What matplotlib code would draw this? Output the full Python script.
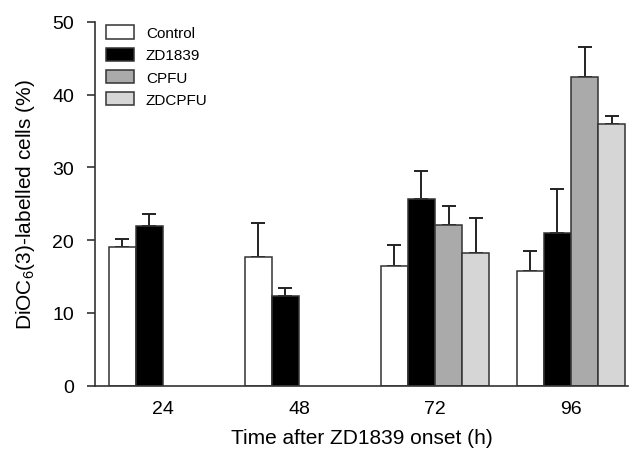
import numpy as np
import matplotlib
matplotlib.use('Agg')
import matplotlib.pyplot as plt

plt.rcParams['font.family'] = ['Liberation Sans', 'DejaVu Sans']
plt.rcParams['mathtext.fontset'] = 'custom'
plt.rcParams['mathtext.rm'] = 'Liberation Sans'
plt.rcParams['mathtext.default'] = 'regular'

# values
times = ['24', '48', '72', '96']
series = ['Control', 'ZD1839', 'CPFU', 'ZDCPFU']
control = [19.0, 17.7, 16.4, 15.7]
control_err = [1.1, 4.7, 2.9, 2.8]
zd1839 = [22.0, 12.3, 25.6, 21.0]
zd1839_err = [1.6, 1.1, 3.9, 6.0]
cpfu = [np.nan, np.nan, 22.1, 42.4]
cpfu_err = [np.nan, np.nan, 2.6, 4.2]
zdcpfu = [np.nan, np.nan, 18.3, 36.0]
zdcpfu_err = [np.nan, np.nan, 4.8, 1.0]

colors = ['white', 'black', '#aaaaaa', '#d6d6d6']
values = [control, zd1839, cpfu, zdcpfu]
errors = [control_err, zd1839_err, cpfu_err, zdcpfu_err]

fig = plt.figure(figsize=(6.32, 4.56), dpi=100)
ax = fig.add_axes([0.1503, 0.152, 0.8434, 0.798])

x = np.arange(len(times))
w = 0.2
for i, (name, vals, errs, c) in enumerate(zip(series, values, errors, colors)):
    vals = np.array(vals, dtype=float)
    errs = np.array(errs, dtype=float)
    ok = ~np.isnan(vals)
    pos = x[ok] + (i - 1.5) * w
    ax.bar(pos, vals[ok], w, color=c, edgecolor='#333333', linewidth=1.1,
           label=name, zorder=2)
    ax.errorbar(pos, vals[ok], yerr=[np.zeros(ok.sum()), errs[ok]], fmt='none',
                ecolor='#222222', elinewidth=1.4, capsize=4.7, capthick=1.4,
                zorder=1)

ax.set_xlim(-0.5, 3.42)
ax.set_ylim(0, 50)
ax.set_yticks([0, 10, 20, 30, 40, 50])
ax.set_xticks(x)
ax.set_xticklabels(times)
ax.tick_params(axis='x', length=0, pad=10, labelsize=14)
ax.tick_params(axis='y', direction='out', length=6, width=1.2, color='#333333',
               pad=9, labelsize=14)
for s in ['top', 'right']:
    ax.spines[s].set_visible(False)
for s in ['left', 'bottom']:
    ax.spines[s].set_linewidth(1.2)
    ax.spines[s].set_color('#333333')

ax.set_ylabel('DiOC$_6$(3)-labelled cells (%)', fontsize=15)
ax.yaxis.set_label_coords(-0.108, 0.5)
ax.set_xlabel('Time after ZD1839 onset (h)', fontsize=15, labelpad=8)

ax.legend(loc='upper left', bbox_to_anchor=(0.02, 0.99), frameon=False,
          fontsize=11, handlelength=1.83, handleheight=0.95,
          handletextpad=0.8, labelspacing=0.48, borderpad=0, borderaxespad=0)

fig.savefig('out.png', dpi=100)
